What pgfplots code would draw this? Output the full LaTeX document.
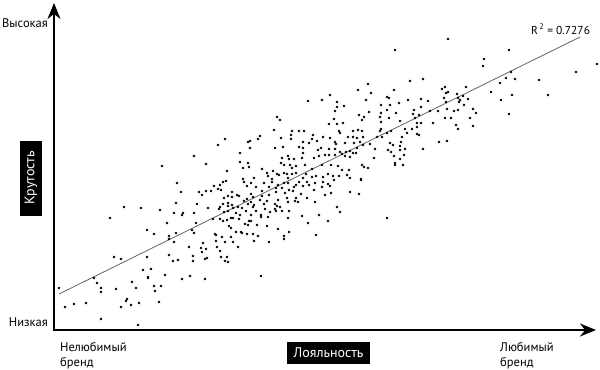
\documentclass[border=0pt]{standalone}
\usepackage{pgfplots}
\pgfplotsset{compat=1.18}
\usepackage{fontspec}
\setmainfont{PT Sans}
\usetikzlibrary{arrows.meta}
\begin{document}
\begin{tikzpicture}
\begin{axis}[
  scale only axis, width=600bp, height=369bp,
  xmin=0, xmax=600, ymin=0, ymax=369, y dir=reverse,
  axis lines=none, clip=false,
  axis background/.style={fill=white},
]
% scatter points (x, y in picture units)
\addplot[only marks, mark=*, mark size=1.15bp, black] table {
x y
162 166
194 156
206 164
218 145
225 139
227 171
395 50
410 81
368 84
358 90
371 93
330 95
308 101
322 100
366 100
337 102
387 97
389 98
394 90
408 100
399 103
381 105
390 105
337 107
344 106
335 111
369 112
359 115
364 117
362 120
381 113
387 110
396 113
414 110
413 114
277 117
280 120
334 119
337 124
329 124
343 123
380 117
389 118
400 121
381 122
274 130
292 131
299 131
304 131
339 131
353 131
358 130
362 131
381 129
380 131
387 133
391 131
405 129
412 129
407 133
260 136
258 139
250 141
248 142
291 135
313 135
312 139
323 137
330 138
335 142
340 133
348 137
353 137
357 138
363 137
360 142
377 137
382 137
402 137
401 142
281 138
291 139
303 142
309 143
317 141
336 144
345 143
354 143
363 145
370 144
390 143
393 145
400 146
250 148
275 148
283 147
299 147
303 148
318 150
321 148
329 149
335 149
340 152
346 152
350 151
353 153
356 153
357 148
388 150
391 152
400 150
405 149
240 153
303 153
319 156
325 155
329 155
335 155
342 154
345 156
350 157
375 149
374 158
394 156
404 155
400 159
282 158
288 156
289 159
294 159
302 158
314 158
240 162
248 163
281 163
284 165
290 165
292 168
296 166
305 165
312 169
322 165
331 165
338 166
342 170
349 170
362 165
364 167
368 168
395 163
395 165
403 165
243 168
249 167
262 169
267 173
268 176
273 171
277 174
279 175
284 173
287 174
292 174
296 173
306 174
312 177
316 176
323 177
328 174
333 176
339 176
347 175
350 178
361 179
243 179
254 178
272 179
288 178
303 178
448 39
509 50
484 59
483 66
576 72
597 64
539 80
423 79
511 72
515 79
506 78
500 83
466 87
491 92
548 95
512 95
442 89
445 87
446 93
448 92
457 94
421 99
428 101
444 98
446 102
458 98
460 100
459 102
463 96
468 99
501 100
464 105
421 107
430 111
438 111
447 109
454 111
458 110
473 109
476 113
415 118
419 115
509 114
445 118
451 118
470 118
417 123
421 123
433 123
456 125
458 129
473 126
417 127
417 134
419 135
439 142
447 141
423 149
177 183
181 192
214 186
220 185
223 182
226 181
218 189
221 190
199 192
202 195
206 191
211 191
232 192
228 196
232 197
224 198
228 203
223 204
228 206
232 205
220 207
219 209
233 208
224 212
228 211
176 203
197 204
208 208
124 207
141 208
160 210
182 215
183 213
174 213
194 213
110 218
213 219
220 219
223 221
227 220
231 218
233 218
167 223
196 223
229 226
231 228
147 230
154 234
176 233
192 230
194 233
169 236
169 239
174 242
215 234
216 235
222 237
231 237
216 241
225 242
233 242
203 243
189 247
201 248
206 249
217 247
202 252
220 251
169 255
193 256
207 258
205 259
221 257
227 257
225 261
228 262
173 261
178 260
193 261
114 257
121 259
147 257
143 270
151 269
165 275
148 277
148 278
190 276
182 279
205 279
94 278
59 288
97 283
101 288
101 292
116 289
132 282
136 288
154 286
161 286
155 291
127 299
126 301
139 303
131 305
121 307
159 302
65 307
74 304
86 303
101 319
138 325
244 182
251 183
264 183
272 182
278 185
284 183
288 183
299 182
307 182
315 183
323 182
328 184
334 180
361 180
247 186
256 187
269 187
276 188
282 188
294 187
296 185
303 186
309 185
322 187
330 186
262 191
276 192
285 193
289 190
293 191
301 194
314 190
325 195
331 193
350 192
359 194
237 195
239 196
251 194
269 195
262 196
253 197
247 199
260 200
267 201
278 200
287 198
296 198
307 198
244 201
251 202
254 205
248 204
264 204
275 204
277 206
280 207
288 202
295 201
298 202
315 202
238 207
242 208
246 211
253 207
256 211
265 209
270 212
275 209
276 211
282 211
289 211
337 207
340 212
236 213
240 215
251 215
261 215
261 217
268 217
288 218
302 216
319 215
328 221
239 219
249 221
251 221
245 224
248 225
257 225
267 226
308 223
278 229
236 232
241 232
242 233
247 234
253 234
258 236
289 232
284 236
316 235
254 241
269 242
284 239
238 247
387 218
261 276
};
% regression line
\addplot[gray!80!black, line width=0.8bp] coordinates {(59,294) (580,37)};
% axes with arrows
\addplot[black, line width=1.8bp, -{Stealth[length=16bp,width=13bp,inset=5bp]}] coordinates {(54,331) (54,3)};
\addplot[black, line width=1.8bp, -{Stealth[length=16bp,width=13bp,inset=5bp]}] coordinates {(53,330) (596,330)};
% texts
\node[anchor=base east, font=\fontsize{12.5bp}{14bp}\selectfont, inner sep=0pt] at (axis cs:48,28) {Высокая};
\node[anchor=base east, font=\fontsize{12.5bp}{14bp}\selectfont, inner sep=0pt] at (axis cs:48,326) {Низкая};
\node[anchor=base west, font=\fontsize{12.5bp}{14bp}\selectfont, inner sep=0pt] at (axis cs:60,351) {Нелюбимый};
\node[anchor=base west, font=\fontsize{12.5bp}{14bp}\selectfont, inner sep=0pt] at (axis cs:60,366) {бренд};
\node[anchor=base west, font=\fontsize{12.5bp}{14bp}\selectfont, inner sep=0pt] at (axis cs:500,351) {Любимый};
\node[anchor=base west, font=\fontsize{12.5bp}{14bp}\selectfont, inner sep=0pt] at (axis cs:500,366) {бренд};
\node[anchor=base west, font=\fontsize{11.5bp}{13bp}\selectfont, inner sep=0pt] at (axis cs:531,34) {R\textsuperscript{\,2} = 0.7276};
\node[fill=black, text=white, font=\fontsize{14bp}{16bp}\selectfont, minimum width=83bp, minimum height=22bp, inner sep=1bp] at (axis cs:328.5,353) {Лояльность};
\node[fill=black, text=white, rotate=90, font=\fontsize{14bp}{16bp}\selectfont, minimum width=75bp, minimum height=22bp, inner sep=1bp] at (axis cs:31,178) {Крутость};
\end{axis}
\end{tikzpicture}
\end{document}
